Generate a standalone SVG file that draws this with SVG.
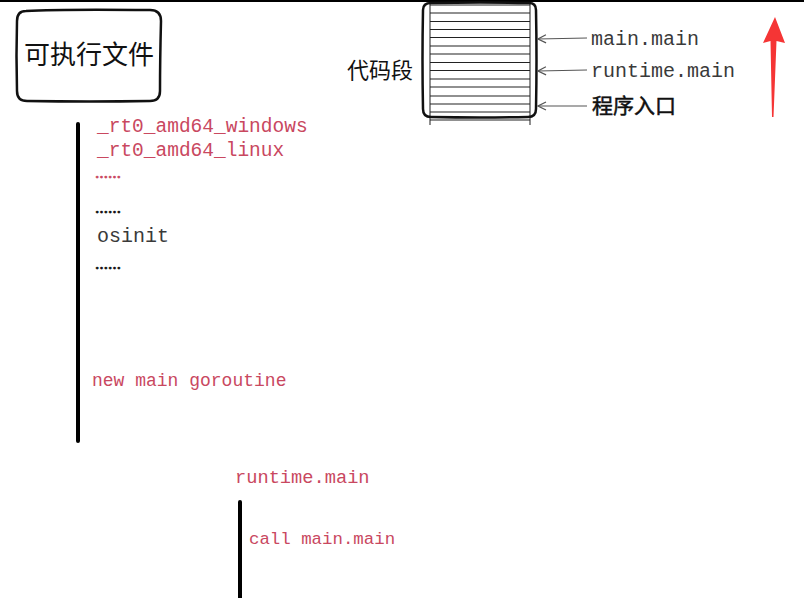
<svg xmlns="http://www.w3.org/2000/svg" width="804" height="598" viewBox="0 0 804 598">
<defs>
<style>
.mono{font-family:"Liberation Mono","DejaVu Sans Mono",monospace;}
.red{fill:#c9485f;}
.gray{fill:#3a3a3a;}
.cjk{font-family:"Noto Sans CJK SC","Noto Sans",sans-serif;fill:#111;}
.dots{font-family:"Noto Sans CJK SC",sans-serif;font-size:13px;font-weight:bold;stroke-width:0.6;}
.thick{stroke:#000;stroke-width:4;stroke-linecap:round;fill:none;}
.hline{stroke:#222;stroke-width:1.2;}
.ptr{stroke:#555;stroke-width:1.2;fill:none;}
</style>
<marker id="openArrow" viewBox="0 0 10 10" refX="9" refY="5" markerWidth="10" markerHeight="10" orient="auto" markerUnits="userSpaceOnUse">
<path d="M1,1 L9,5 L1,9" fill="none" stroke="#555" stroke-width="1.2"/>
</marker>
</defs>
<rect width="804" height="598" fill="#fff"/>
<line x1="0" y1="1" x2="804" y2="1" stroke="#000" stroke-width="2"/>

<g id="exe-box">
<path d="M26,11 Q60,9 150,10 Q161,10 161,21 Q160,60 160,91 Q160,101 150,101 Q90,102 27,101 Q17,101 17,91 Q16,55 17,21 Q17,11 26,11 Z" fill="none" stroke="#111" stroke-width="2.5"/>
<text x="89" y="64" text-anchor="middle" class="cjk" font-size="26">可执行文件</text>
</g>

<g id="code-segment">
<line x1="430" y1="4" x2="430" y2="125" stroke="#444" stroke-width="1.2"/>
<line x1="530" y1="4" x2="530" y2="125" stroke="#444" stroke-width="1.2"/>
<g class="hline">
<line x1="430" y1="5" x2="530" y2="5"/>
<line x1="430" y1="13" x2="530" y2="13"/>
<line x1="430" y1="21.5" x2="530" y2="21.5"/>
<line x1="430" y1="29.5" x2="530" y2="29.5"/>
<line x1="430" y1="37.5" x2="530" y2="37.5"/>
<line x1="430" y1="46" x2="530" y2="46"/>
<line x1="430" y1="54" x2="530" y2="54"/>
<line x1="430" y1="62.5" x2="530" y2="62.5"/>
<line x1="430" y1="70.5" x2="530" y2="70.5"/>
<line x1="430" y1="79" x2="530" y2="79"/>
<line x1="430" y1="87" x2="530" y2="87"/>
<line x1="430" y1="96" x2="530" y2="96"/>
<line x1="430" y1="104" x2="530" y2="104"/>
<line x1="430" y1="112" x2="530" y2="112"/>
<line x1="430" y1="120" x2="530" y2="120"/>
</g>
<path d="M431,3 Q480,2 529,3 Q536,3 536,10 Q537,60 536,109 Q536,117 528,117 Q480,118 431,117 Q423,117 423,109 Q422,60 423,10 Q423,3 431,3 Z" fill="none" stroke="#111" stroke-width="2.5"/>
<text x="380" y="78" text-anchor="middle" class="cjk" font-size="22">代码段</text>
</g>

<g id="labels-right">
<text x="591" y="45" class="mono gray" font-size="20">main.main</text>
<text x="591" y="77" class="mono gray" font-size="20">runtime.main</text>
<text x="592" y="113" class="cjk" font-size="21" stroke="#111" stroke-width="0.5">程序入口</text>
</g>

<g id="connectors">
<line x1="587" y1="38" x2="538" y2="39" class="ptr" marker-end="url(#openArrow)"/>
<line x1="587" y1="70" x2="538" y2="71" class="ptr" marker-end="url(#openArrow)"/>
<line x1="587" y1="106" x2="538" y2="106" class="ptr" marker-end="url(#openArrow)"/>
</g>

<g id="red-arrow">
<polygon points="775,17 763,43 770.5,41 772,117 773.5,117 776.5,41 785,43" fill="#f53535"/>
</g>

<g id="startup-sequence">
<line x1="78" y1="124" x2="78" y2="441" class="thick"/>
<text x="97" y="132" class="mono red" font-size="19.5">_rt0_amd64_windows</text>
<text x="97" y="156" class="mono red" font-size="19.5">_rt0_amd64_linux</text>
<text x="95" y="182" class="dots" fill="#c9485f" stroke="#c9485f">……</text>
<text x="95" y="217" class="dots" fill="#111" stroke="#111">……</text>
<text x="97" y="242" class="mono gray" font-size="20">osinit</text>
<text x="95" y="273" class="dots" fill="#111" stroke="#111">……</text>
<text x="92" y="386" class="mono red" font-size="18">new main goroutine</text>
</g>

<g id="runtime-main">
<text x="235" y="483" class="mono red" font-size="18.7">runtime.main</text>
<line x1="240" y1="502" x2="240" y2="600" class="thick"/>
<text x="249" y="544" class="mono red" font-size="17.4">call main.main</text>
</g>
</svg>
